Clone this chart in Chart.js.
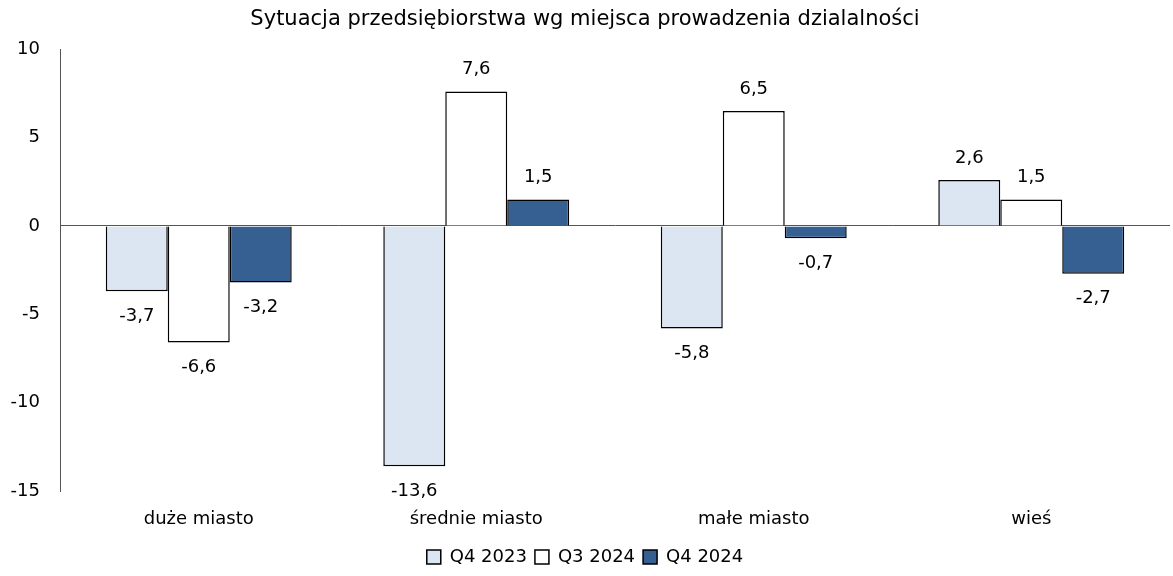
<!DOCTYPE html>
<html>
<head>
<meta charset="utf-8">
<script src="https://cdn.jsdelivr.net/npm/chart.js@4"></script>
<style>
  html, body { margin: 0; padding: 0; background: #fff; }
  #wrap { width: 1173px; height: 576px; }
</style>
</head>
<body>
<div id="wrap"><canvas id="chart"></canvas></div>
<script>
const kategorie = ['duże miasto', 'średnie miasto', 'małe miasto', 'wieś'];
const q42023 = [-3.7, -13.6, -5.8, 2.6];
const q32024 = [-6.6, 7.6, 6.5, 1.5];
const q42024 = [-3.2, 1.5, -0.7, -2.7];
const osY = [-15, -10, -5, 0, 5, 10];

const FONT = 'DejaVu Sans';

// etykiety wartosci nad/pod slupkami
const etykiety = {
  id: 'etykiety',
  afterDatasetsDraw(chart) {
    const ctx = chart.ctx;
    ctx.save();
    ctx.font = '18px "' + FONT + '"';
    ctx.fillStyle = '#000';
    ctx.textAlign = 'center';
    ctx.textBaseline = 'middle';
    chart.data.datasets.forEach((ds, i) => {
      chart.getDatasetMeta(i).data.forEach((bar, j) => {
        const v = ds.data[j];
        const txt = v.toFixed(1).replace('.', ',');
        const y = v >= 0 ? bar.y - 22 : bar.y + 25;
        ctx.fillText(txt, bar.x, y);
      });
    });
    ctx.restore();
  }
};

new Chart(document.getElementById('chart').getContext('2d'), {
  type: 'bar',
  data: {
    labels: kategorie,
    datasets: [
      { label: 'Q4 2023', data: q42023, backgroundColor: '#dce6f2', borderColor: '#000', borderWidth: 1.5 },
      { label: 'Q3 2024', data: q32024, backgroundColor: '#ffffff', borderColor: '#000', borderWidth: 1.5 },
      { label: 'Q4 2024', data: q42024, backgroundColor: '#366092', borderColor: '#000', borderWidth: 1.5 }
    ]
  },
  options: {
    responsive: true,
    maintainAspectRatio: false,
    animation: false,
    layout: { padding: { top: 0, right: 3, bottom: 0, left: 0 } },
    datasets: { bar: { categoryPercentage: 0.67, barPercentage: 1.0 } },
    plugins: {
      title: {
        display: true,
        text: 'Sytuacja przedsiębiorstwa wg miejsca prowadzenia dzialalności',
        color: '#000',
        font: { family: FONT, size: 21, weight: 'normal' },
        padding: { top: 7, bottom: 17 }
      },
      legend: {
        position: 'bottom',
        labels: {
          color: '#000',
          font: { family: FONT, size: 18 },
          boxWidth: 14,
          boxHeight: 14,
          padding: 8
        }
      },
      tooltip: { enabled: false }
    },
    scales: {
      x: {
        grid: { display: false },
        border: { display: false },
        afterFit: axis => { axis.height = 49; },
        ticks: { color: '#000', font: { family: FONT, size: 18 }, padding: 10 }
      },
      y: {
        min: -15,
        max: 10,
        afterBuildTicks: axis => { axis.ticks = osY.map(v => ({ value: v })); },
        afterFit: axis => { axis.width = 60; },
        border: { display: true, color: '#555', width: 1 },
        grid: {
          drawTicks: false,
          color: c => c.tick && c.tick.value === 0 ? '#555' : 'rgba(0,0,0,0)'
        },
        ticks: { color: '#000', font: { family: FONT, size: 18 }, padding: 20 }
      }
    }
  },
  plugins: [etykiety]
});
</script>
</body>
</html>
